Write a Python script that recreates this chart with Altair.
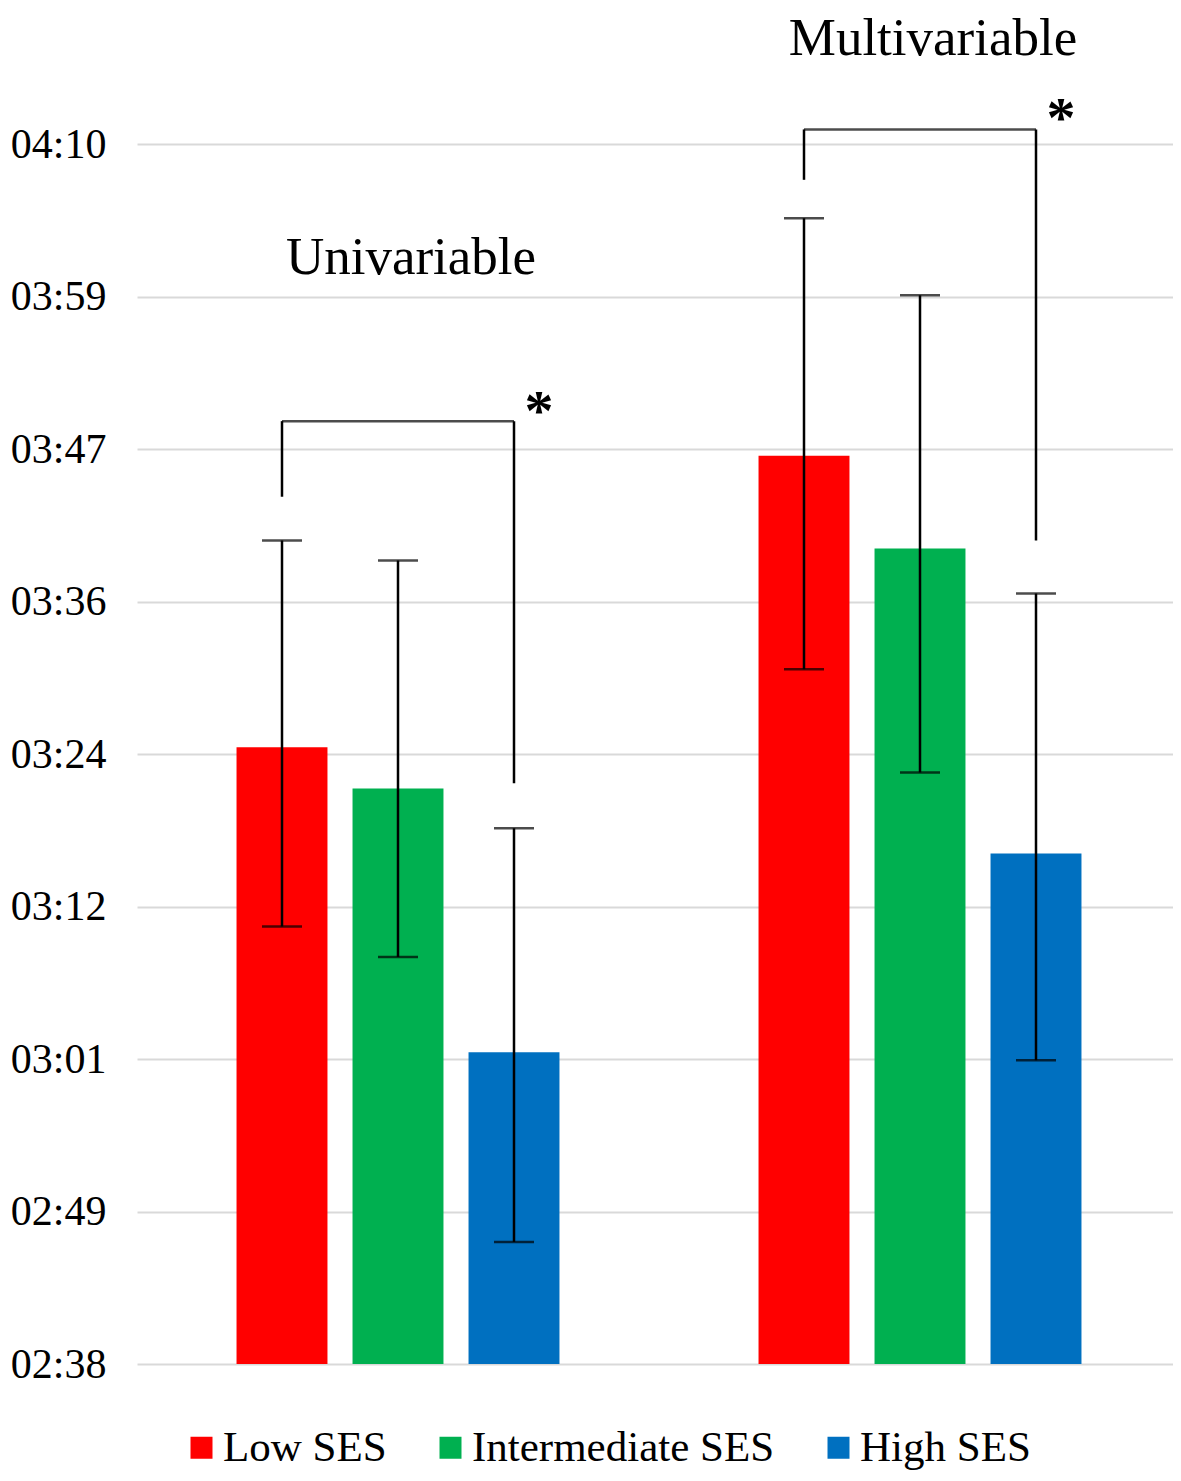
import altair as alt
import pandas as pd

groups = ["Univariable", "Multivariable"]
series = ["Low SES", "Intermediate SES", "High SES"]
colors = ["#FF0000", "#00B050", "#0070C0"]

# values in seconds (mm:ss axis)
mean_uni = [204.5, 201.4, 181.5]
mean_multi = [226.5, 219.5, 196.5]
lo_uni = [191.0, 188.7, 167.2]
lo_multi = [210.4, 202.6, 180.9]
hi_uni = [220.1, 218.6, 198.4]
hi_multi = [244.4, 238.6, 216.1]

tick_values = [158, 169.5, 181, 192.5, 204, 215.5, 227, 238.5, 250]
tick_labels = ["02:38", "02:49", "03:01", "03:12", "03:24", "03:36", "03:47", "03:59", "04:10"]

# significance brackets (Low SES vs High SES)
br_left_start = [223.4, 247.3]
br_top = [229.1, 251.1]
br_right_end = [201.8, 220.1]
star_y = [230.7, 252.8]
group_title_y = [241.4, 257.9]

FONT = "Liberation Serif"

rows = []
for g, means, los, his in [(groups[0], mean_uni, lo_uni, hi_uni), (groups[1], mean_multi, lo_multi, hi_multi)]:
    for s, m, lo, hi in zip(series, means, los, his):
        rows.append({"group": g, "series": s, "mean": m, "lo": lo, "hi": hi})
df = pd.DataFrame(rows)

vert_rows = []
horiz_rows = []
star_rows = []
title_rows = []
for i, g in enumerate(groups):
    vert_rows.append({"group": g, "series": series[0], "y": br_left_start[i], "y2": br_top[i]})
    vert_rows.append({"group": g, "series": series[2], "y": br_top[i], "y2": br_right_end[i]})
    horiz_rows.append({"group": g, "series": series[1], "y": br_top[i]})
    star_rows.append({"group": g, "series": series[2], "y": star_y[i], "t": "*"})
    title_rows.append({"group": g, "series": series[1], "y": group_title_y[i], "t": g})
vert_df = pd.DataFrame(vert_rows)
horiz_df = pd.DataFrame(horiz_rows)
star_df = pd.DataFrame(star_rows)
title_df = pd.DataFrame(title_rows)

label_expr = ""
for v, l in zip(tick_values, tick_labels):
    label_expr += f"datum.value == {v} ? '{l}' : "
label_expr += "''"

x_enc = alt.X("group:N", sort=groups,
              scale=alt.Scale(domain=groups, paddingInner=0, paddingOuter=0, range=[0, 1044]),
              axis=None)
xo_enc = alt.XOffset("series:N", sort=series,
                     scale=alt.Scale(domain=series, paddingInner=0.216, paddingOuter=0.858))
y_scale = alt.Scale(domain=[158, 250], nice=False, zero=False)

bars = alt.Chart(df).mark_bar().encode(
    x=x_enc,
    xOffset=xo_enc,
    y=alt.Y("mean:Q", scale=y_scale, title=None,
            axis=alt.Axis(values=tick_values, labelExpr=label_expr, domain=False, ticks=False,
                          tickSize=0, labelPadding=31, labelFont=FONT, labelFontSize=42,
                          labelColor="black", gridColor="#D9D9D9", gridWidth=2)),
    y2=alt.datum(158),
    color=alt.Color("series:N", sort=series,
                    scale=alt.Scale(domain=series, range=colors),
                    legend=alt.Legend(title=None, orient="none", direction="horizontal",
                                      legendX=43, legendY=1282, symbolType="square",
                                      symbolSize=484, symbolStrokeWidth=0,
                                      labelFont=FONT, labelFontSize=43, labelColor="black",
                                      labelLimit=0, labelOffset=0, columnPadding=42, padding=0)),
)

err = alt.Chart(df).mark_rule(color="black", strokeWidth=2.5).encode(
    x=x_enc, xOffset=xo_enc, y=alt.Y("lo:Q", scale=y_scale), y2="hi:Q")

cap_lo = alt.Chart(df).mark_tick(color="black", size=40, thickness=2.5).encode(
    x=x_enc, xOffset=xo_enc, y=alt.Y("lo:Q", scale=y_scale))
cap_hi = alt.Chart(df).mark_tick(color="black", size=40, thickness=2.5).encode(
    x=x_enc, xOffset=xo_enc, y=alt.Y("hi:Q", scale=y_scale))

br_v = alt.Chart(vert_df).mark_rule(color="black", strokeWidth=2.5).encode(
    x=x_enc, xOffset=xo_enc, y=alt.Y("y:Q", scale=y_scale), y2="y2:Q")
br_h = alt.Chart(horiz_df).mark_tick(color="black", size=232, thickness=2.5).encode(
    x=x_enc, xOffset=xo_enc, y=alt.Y("y:Q", scale=y_scale))

stars = alt.Chart(star_df).mark_text(font=FONT, fontSize=58, fontWeight="bold", color="black",
                                     dx=25, dy=13, baseline="middle").encode(
    x=x_enc, xOffset=xo_enc, y=alt.Y("y:Q", scale=y_scale), text="t:N")

titles = alt.Chart(title_df).mark_text(font=FONT, fontSize=53, color="black", dx=13,
                                       baseline="middle").encode(
    x=x_enc, xOffset=xo_enc, y=alt.Y("y:Q", scale=y_scale), text="t:N")

chart = alt.layer(bars, err, cap_lo, cap_hi, br_v, br_h, stars, titles).properties(
    width=1036, height=1220,
    background="white",
    autosize=alt.AutoSizeParams(type="none"),
    padding={"left": 129, "top": 136, "right": 0, "bottom": 108},
).configure_view(stroke=None)

chart.save("out.html", embed_options={"renderer": "svg", "actions": False})
